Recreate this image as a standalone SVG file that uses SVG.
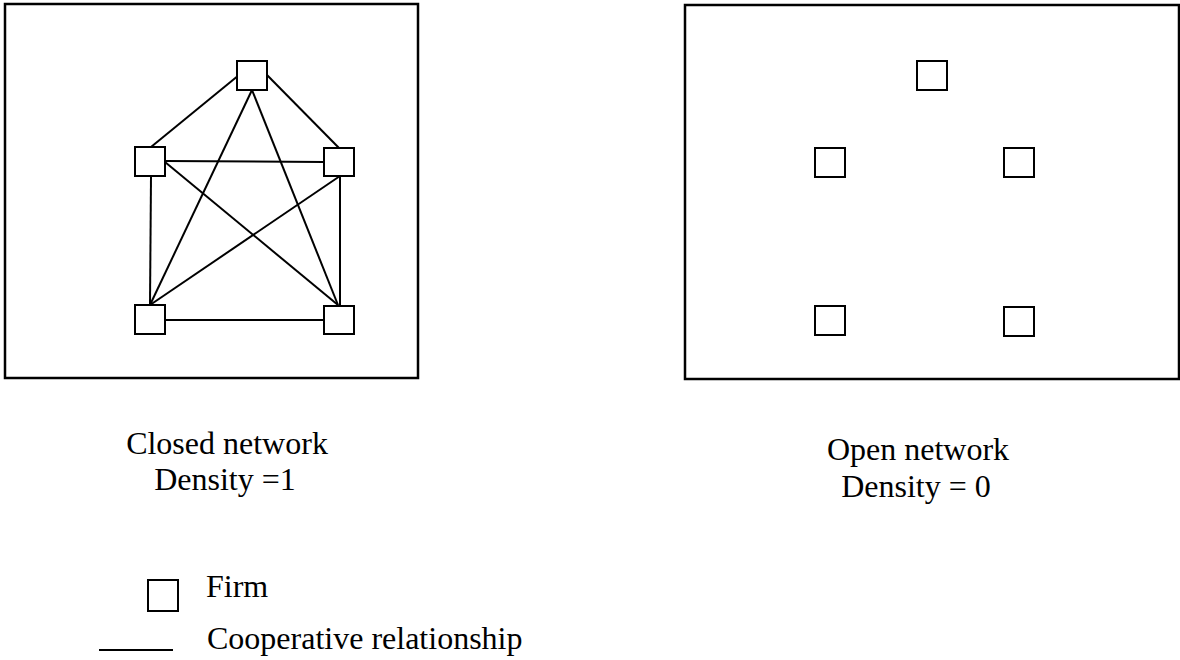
<svg xmlns="http://www.w3.org/2000/svg" width="1180" height="660" viewBox="0 0 1180 660">
<style>
.frame{fill:none;stroke:#000;stroke-width:2.5}
.firm{fill:#fff;stroke:#000;stroke-width:2}
.edge{stroke:#000;stroke-width:2;fill:none}
text{font-family:"Liberation Serif","Times New Roman",serif;font-size:32px;fill:#000}
.c{text-anchor:middle}
</style>
<rect width="1180" height="660" fill="#fff"/>
<rect id="closed-frame" class="frame" x="5" y="4" width="413" height="374"/>
<rect id="open-frame" class="frame" x="685" y="5" width="494" height="374"/>
<g id="connectors">
<line class="edge" x1="239" y1="75" x2="151" y2="147"/>
<line class="edge" x1="267" y1="75" x2="339" y2="148"/>
<line class="edge" x1="252" y1="90" x2="150" y2="305"/>
<line class="edge" x1="252" y1="90" x2="338" y2="305"/>
<line class="edge" x1="165" y1="161" x2="324" y2="162"/>
<line class="edge" x1="165" y1="162" x2="338" y2="305"/>
<line class="edge" x1="340" y1="176" x2="150" y2="305"/>
<line class="edge" x1="151" y1="176" x2="150" y2="305"/>
<line class="edge" x1="340" y1="176" x2="340" y2="306"/>
<line class="edge" x1="165" y1="320" x2="324" y2="320"/>
</g>
<g id="c-top"><rect class="firm" x="237" y="61" width="30" height="29"/></g>
<g id="c-left"><rect class="firm" x="135" y="147" width="30" height="29"/></g>
<g id="c-right"><rect class="firm" x="324" y="148" width="30" height="28"/></g>
<g id="c-bl"><rect class="firm" x="135" y="305" width="30" height="29"/></g>
<g id="c-br"><rect class="firm" x="324" y="306" width="30" height="28"/></g>
<g id="o-top"><rect class="firm" x="917" y="61" width="30" height="29"/></g>
<g id="o-left"><rect class="firm" x="815" y="148" width="30" height="29"/></g>
<g id="o-right"><rect class="firm" x="1004" y="148" width="30" height="29"/></g>
<g id="o-bl"><rect class="firm" x="815" y="306" width="30" height="29"/></g>
<g id="o-br"><rect class="firm" x="1004" y="307" width="30" height="29"/></g>
<g id="labels">
<text class="c" x="227" y="454">Closed network</text>
<text class="c" x="225" y="490">Density =1</text>
<text class="c" x="918" y="460">Open network</text>
<text class="c" x="916" y="497">Density = 0</text>
</g>
<g id="legend">
<rect class="firm" x="148" y="580" width="30" height="31"/>
<text x="206" y="597">Firm</text>
<line class="edge" x1="99" y1="650" x2="173" y2="650"/>
<text x="207" y="649">Cooperative relationship</text>
</g>
</svg>
